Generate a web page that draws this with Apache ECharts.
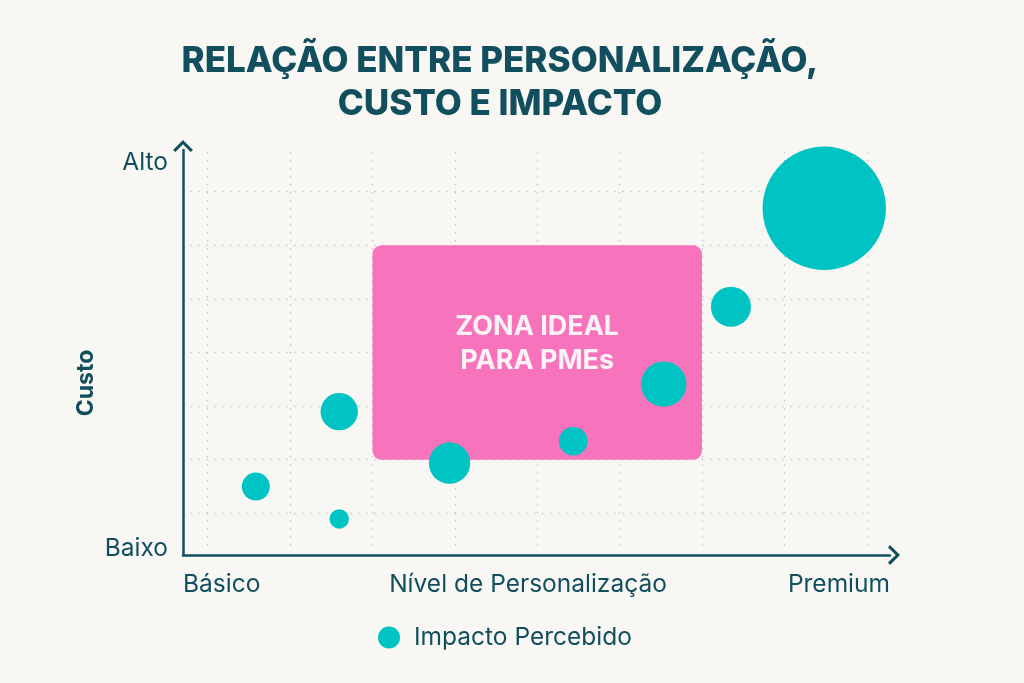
<!DOCTYPE html>
<html>
<head>
<meta charset="utf-8">
<script src="https://cdn.jsdelivr.net/npm/echarts@6/dist/echarts.min.js"></script>
<style>
html,body{margin:0;padding:0;background:#f9f7f3;}
#c{width:1024px;height:683px;}
</style>
</head>
<body>
<div id="c"></div>
<script>
// ---- data ----
var personalizacao = [10.3, 22.1, 22.1, 37.7, 55.2, 68.0, 77.5, 90.7];
var custo          = [16.9,  8.9, 35.4, 22.7, 28.1, 42.2, 61.3, 85.6];
var impacto        = [14,   9.7, 18.7, 20.7, 14.3, 22.7, 20,   61.7];
var zonaIdeal      = [26.8, 23.5, 73.4, 76.5]; // x0, y0, x1, y1
var xTickLabels    = {0: 'Básico', 50: 'Nível de Personalização', 100: 'Premium'};
var yTickLabels    = {0: 'Baixo', 100: 'Alto'};

var points = personalizacao.map(function (x, i) { return [x, custo[i], impacto[i]]; });

var DARK = '#114f5e';
var TEAL = '#00c4c3';
var PINK = '#f76bb8';
var FONT = 'Inter, "Noto Sans", sans-serif';
var chevron = 'path://M10,0 L20,10 L17.6,12 L10,4.2 L2.4,12 L0,10 Z';
var gridLine = {show: true, lineStyle: {color: '#c6c6c4', width: 1.3, type: [1.5, 6.5]}};

var chart = echarts.init(document.getElementById('c'));
chart.setOption({
  backgroundColor: '#f9f7f3',
  textStyle: {fontFamily: FONT},
  title: {
    text: 'RELAÇÃO ENTRE PERSONALIZAÇÃO,\nCUSTO E IMPACTO',
    left: 495, top: 35, textAlign: 'center',
    textStyle: {color: DARK, fontSize: 35, fontWeight: 800, fontFamily: FONT, lineHeight: 43}
  },
  legend: {
    data: ['Impacto Percebido'],
    left: 373, top: 620,
    icon: 'circle', itemWidth: 22, itemHeight: 22, itemGap: 10,
    textStyle: {color: DARK, fontSize: 24.5, fontFamily: FONT, padding: [0, 0, 0, 9]}
  },
  grid: [
    {left: 183, top: 150, width: 707, height: 405},
    {left: 207.5, top: 152, width: 659.5, height: 400},
    {left: 190, top: 191.7, width: 677, height: 321.6}
  ],
  xAxis: [
    {
      gridIndex: 0, type: 'value', min: 0, max: 100, interval: 50,
      axisLine: {show: true, symbol: ['none', chevron], symbolSize: [20, 12], symbolOffset: [0, 4],
                 lineStyle: {color: DARK, width: 2.5}},
      axisTick: {show: false}, splitLine: {show: false},
      axisLabel: {
        show: true, color: DARK, fontSize: 24.5, margin: 17, fontFamily: FONT,
        alignMinLabel: 'left', alignMaxLabel: 'right',
        formatter: function (v) {
          if (v === 50) { return '{m|' + xTickLabels[v] + '}'; }
          return xTickLabels[v] || '';
        },
        rich: {m: {color: DARK, fontSize: 24.5, fontFamily: FONT, padding: [0, 17, 0, 0]}}
      }
    },
    {gridIndex: 1, type: 'value', min: 0, max: 8, interval: 1,
     axisLine: {show: false}, axisTick: {show: false}, axisLabel: {show: false}, splitLine: gridLine},
    {gridIndex: 2, type: 'value', min: 0, max: 1, show: false}
  ],
  yAxis: [
    {
      gridIndex: 0, type: 'value', min: 0, max: 100, interval: 100,
      axisLine: {show: true, symbol: ['none', chevron], symbolSize: [20, 12], symbolOffset: [0, 4],
                 lineStyle: {color: DARK, width: 2.5}},
      axisTick: {show: false}, splitLine: {show: false},
      axisLabel: {
        show: true, color: DARK, fontSize: 24.5, margin: 15, fontFamily: FONT,
        verticalAlignMinLabel: 'middle', verticalAlignMaxLabel: 'top',
        formatter: function (v) {
          if (v === 0) { return '{b|' + yTickLabels[v] + '}'; }
          return yTickLabels[v] || '';
        },
        rich: {b: {color: DARK, fontSize: 24.5, fontFamily: FONT, padding: [0, 0, 12, 0]}}
      }
    },
    {gridIndex: 1, type: 'value', min: 0, max: 1, show: false},
    {gridIndex: 2, type: 'value', min: 0, max: 6, interval: 1,
     axisLine: {show: false}, axisTick: {show: false}, axisLabel: {show: false}, splitLine: gridLine}
  ],
  graphic: [{
    type: 'text', x: 86, y: 383, rotation: Math.PI / 2,
    style: {text: 'Custo', fill: DARK, font: '700 23px ' + FONT, align: 'center', verticalAlign: 'middle'}
  }],
  series: [
    {
      type: 'custom', name: 'zona', xAxisIndex: 0, yAxisIndex: 0, z: 1, silent: true,
      data: [zonaIdeal],
      renderItem: function (params, api) {
        var p0 = api.coord([api.value(0), api.value(3)]);
        var p1 = api.coord([api.value(2), api.value(1)]);
        var cx = (p0[0] + p1[0]) / 2, cy = (p0[1] + p1[1]) / 2;
        return {
          type: 'group',
          children: [
            {type: 'rect', shape: {x: p0[0], y: p0[1], width: p1[0] - p0[0], height: p1[1] - p0[1], r: 9},
             style: {fill: PINK, opacity: 0.94}},
            {type: 'text', x: cx, y: cy - 9,
             style: {text: 'ZONA IDEAL\nPARA PMEs', fill: '#fdf3f6', font: '700 27px ' + FONT,
                     align: 'center', verticalAlign: 'middle', lineHeight: 34}}
          ]
        };
      }
    },
    {
      type: 'scatter', name: 'Impacto Percebido', xAxisIndex: 0, yAxisIndex: 0, z: 3,
      data: points,
      symbolSize: function (v) { return v[2] * 2; },
      itemStyle: {color: TEAL, opacity: 1}
    }
  ]
});
</script>
</body>
</html>
